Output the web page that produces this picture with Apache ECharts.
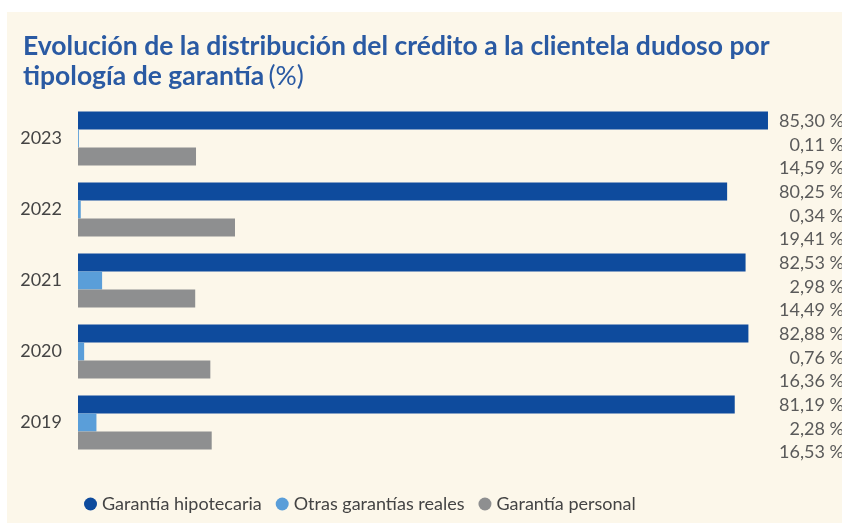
<!DOCTYPE html>
<html>
<head>
<meta charset="utf-8">
<script src="https://cdn.jsdelivr.net/npm/echarts@6/dist/echarts.min.js"></script>
<style>
  html, body { margin: 0; padding: 0; background: #ffffff; }
  #main { position: absolute; left: 7px; top: 12px; width: 835px; height: 511px; background: #fcf7ea; }
</style>
</head>
<body>
<div id="main"></div>
<script>
// datos (%)
var years = ['2019', '2020', '2021', '2022', '2023'];
var hipotecaria = [81.19, 82.88, 82.53, 80.25, 85.30];
var otrasReales = [2.28, 0.76, 2.98, 0.34, 0.11];
var personal = [16.53, 16.36, 14.49, 19.41, 14.59];
var seriesNames = ['Garantía hipotecaria', 'Otras garantías reales', 'Garantía personal'];
var colors = ['#0e4b9d', '#5a9ed9', '#8e8f90'];

var myChart = echarts.init(document.getElementById('main'));

function fmt(v) {
    return v.toFixed(2).replace('.', ',') + ' %';
}

// etiqueta a la derecha, alineada en columna
function labelCfg(dy) {
    return {
        show: true,
        position: [766, '50%'],
        offset: [0, dy],
        align: 'right',
        verticalAlign: 'middle',
        color: '#5a5a5a',
        fontFamily: 'Lato',
        fontSize: 18,
        formatter: function (p) { return fmt(p.value); }
    };
}

function mkSeries(i, data, dy) {
    return {
        name: seriesNames[i],
        type: 'bar',
        data: data,
        barGap: '0%',
        barCategoryGap: '24%',
        itemStyle: { color: colors[i] },
        label: labelCfg(dy),
        silent: true
    };
}

myChart.setOption({
    textStyle: { fontFamily: 'Lato' },
    title: {
        left: 11,
        top: 14,
        text: '{b|Evolución de la distribución del crédito a la clientela dudoso por}\n{b|tipología de garantía} {n|(%)}',
        textStyle: {
            rich: {
                b: { fontFamily: 'Lato', fontWeight: 'bold', fontSize: 26.5, color: '#2a5aa3', lineHeight: 30 },
                n: { fontFamily: 'Lato', fontWeight: 'normal', fontSize: 26.5, color: '#2a5aa3', lineHeight: 30 }
            }
        }
    },
    legend: {
        data: seriesNames,
        left: 72,
        top: 478,
        icon: 'circle',
        itemWidth: 13,
        itemHeight: 13,
        itemGap: 14,
        textStyle: { fontFamily: 'Lato', fontSize: 18, color: '#444444' }
    },
    grid: {
        left: 71,
        right: 36,
        top: 91,
        height: 355,
        containLabel: false
    },
    xAxis: {
        type: 'value',
        min: 0,
        max: 90,
        show: false
    },
    yAxis: {
        type: 'category',
        data: years,
        axisLine: { show: false },
        axisTick: { show: false },
        axisLabel: { fontFamily: 'Lato', fontSize: 18, color: '#444444', margin: 16 }
    },
    series: [
        mkSeries(0, hipotecaria, 1),
        mkSeries(1, otrasReales, 7),
        mkSeries(2, personal, 12)
    ]
});
</script>
</body>
</html>
